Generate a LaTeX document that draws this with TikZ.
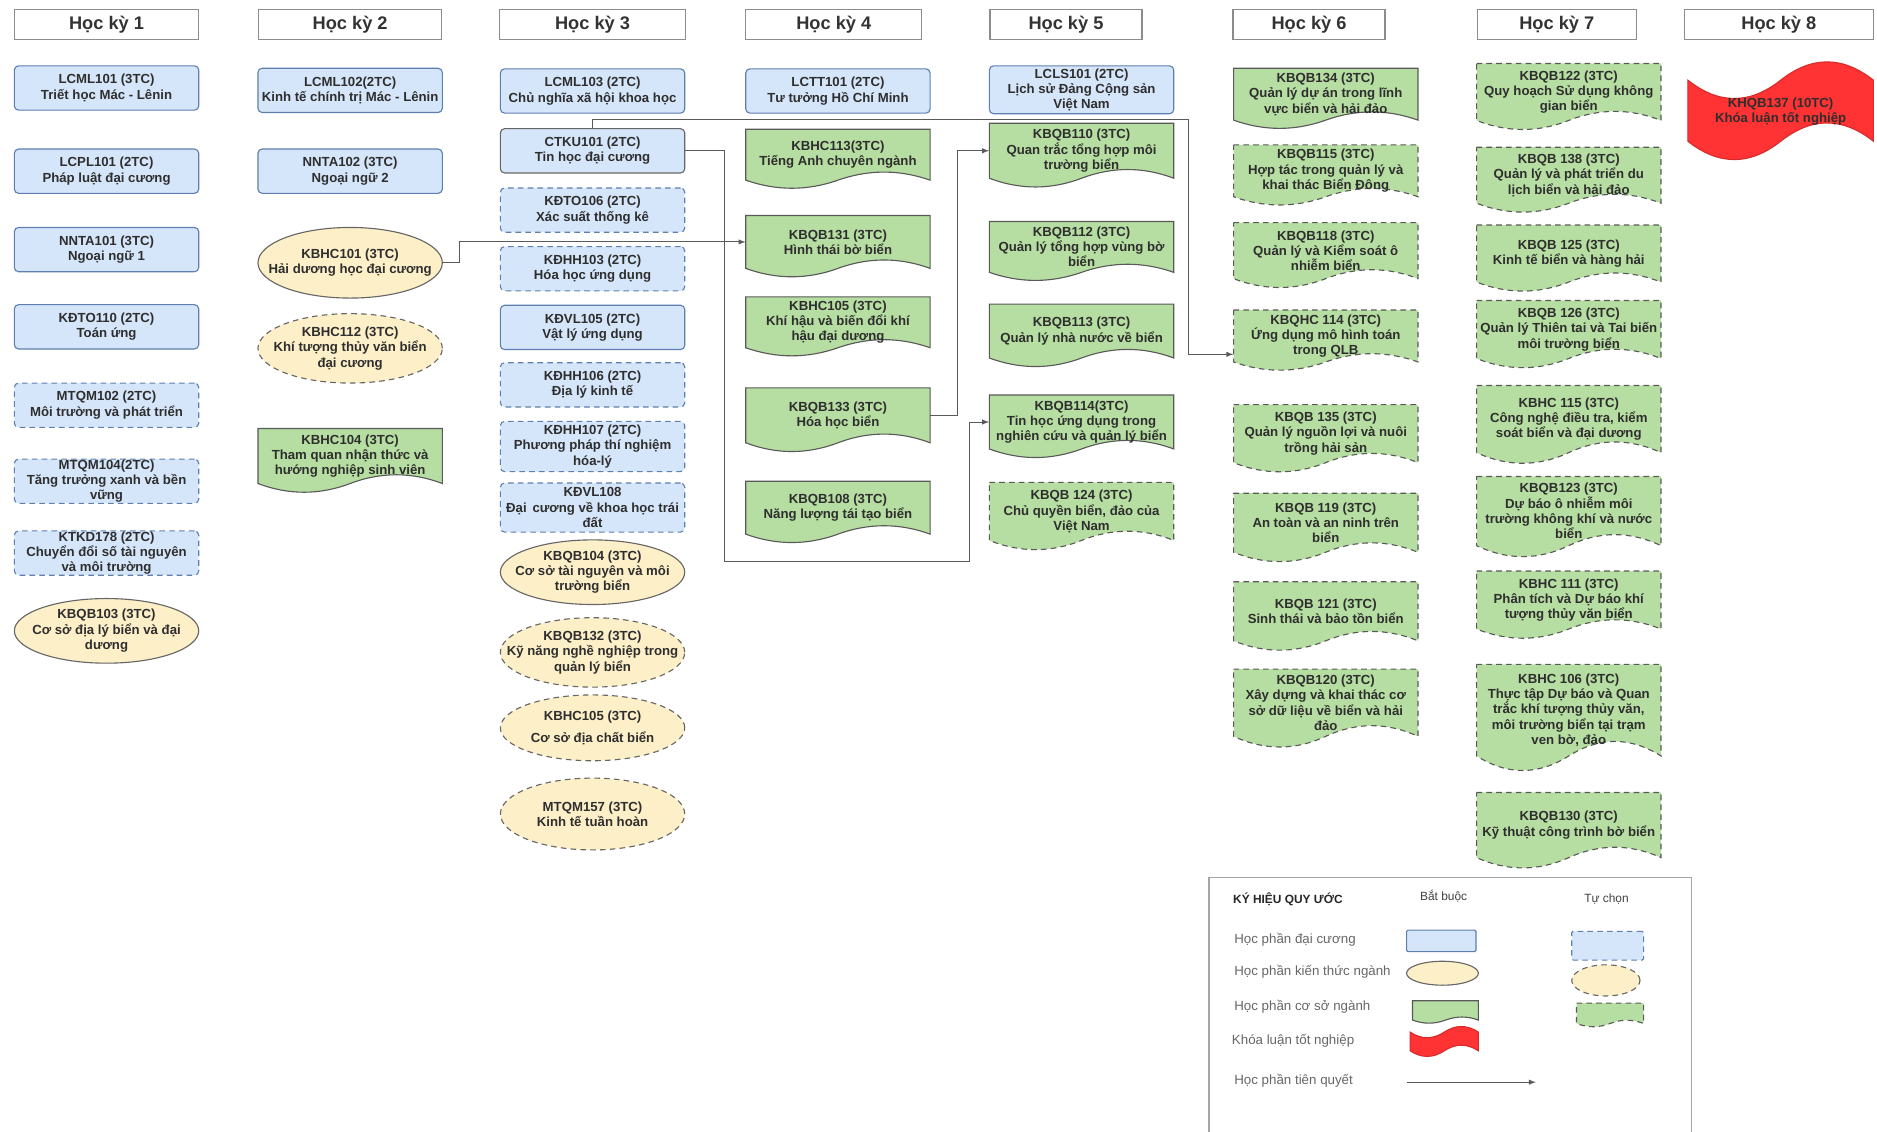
\documentclass[tikz,border=0pt]{standalone}
\usepackage{fontspec}
\setmainfont{Liberation Sans}
\usetikzlibrary{shapes.geometric}
\definecolor{genblue}{HTML}{D6E6FA}
\definecolor{genline}{HTML}{5E7FAF}
\definecolor{majfill}{HTML}{FDEFC8}
\definecolor{basegreen}{HTML}{B7DEA2}
\definecolor{thesisred}{HTML}{FF3333}
\tikzset{txt/.style={font=\bfseries\fontsize{9.4}{10.9}\selectfont,align=center,text=black!82},
sem/.style={draw=black!45,fill=white,line width=0.8pt,minimum height=0.75cm,font=\bfseries\fontsize{13}{15}\selectfont,text=black!80},
gen/.style={txt,draw=genline,fill=genblue,line width=0.8pt,rounded corners=3pt,minimum width=4.62cm,minimum height=1.11cm,inner sep=0pt},
opt/.style={dash pattern=on 4pt off 3pt},
major/.style={txt,ellipse,draw=black!60,fill=majfill,line width=0.8pt,minimum width=4.62cm,inner xsep=-30pt,inner ysep=-8pt},
base/.style={draw=black!65,fill=basegreen,line width=0.8pt},
basetext/.style={txt,inner sep=0pt},
thesis/.style={draw=thesisred!85!black,fill=thesisred,line width=0.8pt},
link/.style={draw=black!65,line width=0.7pt,-latex},
legend/.style={font=\fontsize{9.5}{11}\selectfont,text=black!60,anchor=west}}
% green course box with a wavy bottom: [opt]{name}{cx}{top}{w}{h}{text}
\newcommand{\basebox}[7][]{%
\draw[base,#1] ({#3-0.5*#5},#4) -- ({#3+0.5*#5},#4) -- ({#3+0.5*#5},{#4+0.85*#6})
 .. controls ({#3+0.3333*#5},{#4+0.67*#6}) and ({#3+0.1667*#5},{#4+0.67*#6}) .. (#3,{#4+0.85*#6})
 .. controls ({#3-0.1667*#5},{#4+1.03*#6}) and ({#3-0.3333*#5},{#4+1.03*#6}) .. ({#3-0.5*#5},{#4+0.85*#6}) -- cycle;
\node[basetext,minimum width=#5*0.03cm,minimum height=0.85*#6*0.03cm] (#2) at (#3,{#4+0.425*#6}) {#7};}
% red flag shape: {cx}{top}{w}{h}
\newcommand{\tapeshape}[4]{%
\draw[thesis] ({#1-0.5*#3},{#2+0.2*#4}) .. controls ({#1-0.3333*#3},{#2+0.44*#4}) and ({#1-0.1667*#3},{#2+0.44*#4}) .. (#1,{#2+0.2*#4})
 .. controls ({#1+0.1667*#3},{#2-0.04*#4}) and ({#1+0.3333*#3},{#2-0.04*#4}) .. ({#1+0.5*#3},{#2+0.2*#4}) -- ({#1+0.5*#3},{#2+0.8*#4})
 .. controls ({#1+0.3333*#3},{#2+0.56*#4}) and ({#1+0.1667*#3},{#2+0.56*#4}) .. (#1,{#2+0.8*#4})
 .. controls ({#1-0.1667*#3},{#2+1.04*#4}) and ({#1-0.3333*#3},{#2+1.04*#4}) .. ({#1-0.5*#3},{#2+0.8*#4}) -- cycle;}
\begin{document}
\begin{tikzpicture}[x=0.03cm,y=-0.03cm]
\useasboundingbox (0,0) rectangle (1568,945);
\foreach \n/\cx/\w in {1/89/154,2/292.5/153,3/495/156,4/696.5/147,5/890.5/127,6/1093.5/127,7/1300.5/133,8/1486/158}
\node[sem,minimum width=\w*0.03cm] (hk\n) at (\cx,20.5) {Học kỳ \n};

\node[gen] (lcml101) at (89,73.5) {LCML101 (3TC)\\Triết học Mác - Lênin};
\node[gen] (lcpl101) at (89,143) {LCPL101 (2TC)\\Pháp luật đại cương};
\node[gen] (nnta101) at (89,208.5) {NNTA101 (3TC)\\Ngoại ngữ 1};
\node[gen] (kdto110) at (89,273) {KĐTO110 (2TC)\\Toán ứng};
\node[gen,opt] (mtqm102) at (89,338.5) {MTQM102 (2TC)\\Môi trường và phát triển};
\node[gen,opt] (mtqm104) at (89,402) {MTQM104(2TC)\\Tăng trưởng xanh và bền\\vững};
\node[gen,opt] (ktkd178) at (89,462) {KTKD178 (2TC)\\Chuyển đổi số tài nguyên\\và môi trường};
\node[major,minimum height=54*0.03cm] (kbqb103) at (89,527) {KBQB103 (3TC)\\Cơ sở địa lý biển và đại\\dương};

\node[gen] (lcml102) at (292.5,75.5) {LCML102(2TC)\\Kinh tế chính trị Mác - Lênin};
\node[gen] (nnta102) at (292.5,143) {NNTA102 (3TC)\\Ngoại ngữ 2};
\node[major,minimum height=59*0.03cm] (kbhc101) at (292.5,219.5) {KBHC101 (3TC)\\Hải dương học đại cương};
\node[major,opt,minimum height=58*0.03cm] (kbhc112) at (292.5,291) {KBHC112 (3TC)\\Khí tượng thủy văn biển\\đại cương};
\basebox{kbhc104}{292.5}{358}{154}{54}{KBHC104 (3TC)\\Tham quan nhận thức và\\hướng nghiệp sinh viên}

\node[gen] (lcml103) at (495,76) {LCML103 (2TC)\\Chủ nghĩa xã hội khoa học};
\node[gen,draw=black!60] (ctku101) at (495,126) {CTKU101 (2TC)\\Tin học đại cương};
\node[gen,opt] (kdto106) at (495,175.5) {KĐTO106 (2TC)\\Xác suất thống kê};
\node[gen,opt] (kdhh103) at (495,224.5) {KĐHH103 (2TC)\\Hóa học ứng dụng};
\node[gen] (kdvl105) at (495,273.5) {KĐVL105 (2TC)\\Vật lý ứng dụng};
\node[gen,opt] (kdhh106) at (495,321.5) {KĐHH106 (2TC)\\Địa lý kinh tế};
\node[gen,opt,minimum height=42*0.03cm] (kdhh107) at (495,373) {KĐHH107 (2TC)\\Phương pháp thí nghiệm\\hóa-lý};
\node[gen,opt,minimum height=41*0.03cm] (kdvl108) at (495,424) {KĐVL108\\Đại\, cương về khoa học trái\\đất};
\node[major,minimum height=54*0.03cm] (kbqb104) at (495,478) {KBQB104 (3TC)\\Cơ sở tài nguyên và môi\\trường biển};
\node[major,opt,minimum height=58*0.03cm] (kbqb132) at (495,545) {KBQB132 (3TC)\\Kỹ năng nghề nghiệp trong\\quản lý biển};
\node[major,opt,minimum height=55*0.03cm] (kbhc105a) at (495,608) {KBHC105 (3TC)\\[5pt]Cơ sở địa chất biển};
\node[major,opt,minimum height=60*0.03cm] (mtqm157) at (495,680) {MTQM157 (3TC)\\Kinh tế tuần hoàn};

\node[gen] (lctt101) at (700,76) {LCTT101 (2TC)\\Tư tưởng Hồ Chí Minh};
\basebox{kbhc113}{700}{108}{154}{50}{KBHC113(3TC)\\Tiếng Anh chuyên ngành}
\basebox{kbqb131}{700}{180}{154}{52}{KBQB131 (3TC)\\Hình thái bờ biển}
\basebox{kbhc105b}{700}{248}{154}{50}{KBHC105 (3TC)\\Khí hậu và biến đổi khí\\hậu đại dương}
\basebox{kbqb133}{700}{324}{154}{54}{KBQB133 (3TC)\\Hóa học biển}
\basebox{kbqb108}{700}{402}{154}{52}{KBQB108 (3TC)\\Năng lượng tái tạo biển}

\node[gen,minimum height=40*0.03cm] (lcls101) at (903.5,75) {LCLS101 (2TC)\\Lịch sử Đảng Cộng sản\\Việt Nam};
\basebox{kbqb110}{903.5}{103}{154}{54}{KBQB110 (3TC)\\Quan trắc tổng hợp môi\\trường biển}
\basebox{kbqb112}{903.5}{185}{154}{50}{KBQB112 (3TC)\\Quản lý tổng hợp vùng bờ\\biển}
\basebox{kbqb113}{903.5}{254}{154}{53}{KBQB113 (3TC)\\Quản lý nhà nước về biển}
\basebox{kbqb114}{903.5}{330}{154}{53}{KBQB114(3TC)\\Tin học ứng dụng trong\\nghiên cứu và quản lý biển}
\basebox[opt]{kbqb124}{903.5}{403}{154}{57}{KBQB 124 (3TC)\\Chủ quyền biển, đảo của\\Việt Nam}

\basebox{kbqb134}{1107.5}{57}{154}{51}{KBQB134 (3TC)\\Quản lý dự án trong lĩnh\\vực biển và hải đảo}
\basebox[opt]{kbqb115}{1107.5}{121}{154}{51}{KBQB115 (3TC)\\Hợp tác trong quản lý và\\khai thác Biển Đông}
\basebox[opt]{kbqb118}{1107.5}{186}{154}{55}{KBQB118 (3TC)\\Quản lý và Kiểm soát ô\\nhiễm biển}
\basebox[opt]{kbqhc114}{1107.5}{259}{154}{51}{KBQHC 114 (3TC)\\Ứng dụng mô hình toán\\trong QLB}
\basebox[opt]{kbqb135}{1107.5}{338}{154}{57}{KBQB 135 (3TC)\\Quản lý nguồn lợi và nuôi\\trồng hải sản}
\basebox[opt]{kbqb119}{1107.5}{412}{154}{58}{KBQB 119 (3TC)\\An toàn và an ninh trên\\biển}
\basebox[opt]{kbqb121}{1107.5}{486}{154}{58}{KBQB 121 (3TC)\\Sinh thái và bảo tồn biển}
\basebox[opt]{kbqb120}{1107.5}{559}{154}{66}{KBQB120 (3TC)\\Xây dựng và khai thác cơ\\sở dữ liệu về biển và hải\\đảo}

\basebox[opt]{kbqb122}{1310.5}{53}{154}{56}{KBQB122 (3TC)\\Quy hoạch Sử dụng không\\gian biển}
\basebox[opt]{kbqb138}{1310.5}{123}{154}{55}{KBQB 138 (3TC)\\Quản lý và phát triển du\\lịch biển và hải đảo}
\basebox[opt]{kbqb125}{1310.5}{188}{154}{56}{KBQB 125 (3TC)\\Kinh tế biển và hàng hải}
\basebox[opt]{kbqb126}{1310.5}{251}{154}{57}{KBQB 126 (3TC)\\Quản lý Thiên tai và Tai biến\\môi trường biển}
\basebox[opt]{kbhc115}{1310.5}{322}{154}{66}{KBHC 115 (3TC)\\Công nghệ điều tra, kiểm\\soát biển và đại dương}
\basebox[opt]{kbqb123}{1310.5}{398}{154}{68}{KBQB123 (3TC)\\Dự báo ô nhiễm môi\\trường không khí và nước\\biển}
\basebox[opt]{kbhc111}{1310.5}{477}{154}{57}{KBHC 111 (3TC)\\Phân tích và Dự báo khí\\tượng thủy văn biển}
\basebox[opt]{kbhc106}{1310.5}{555}{154}{90}{KBHC 106 (3TC)\\Thực tập Dự báo và Quan\\trắc khí tượng thủy văn,\\môi trường biển tại trạm\\ven bờ, đảo}
\basebox[opt]{kbqb130}{1310.5}{662}{154}{64}{KBQB130 (3TC)\\Kỹ thuật công trình bờ biển}

\tapeshape{1487.5}{50}{155}{85}
\node[txt,minimum width=155*0.03cm] (khqb137) at (1487.5,93) {KHQB137 (10TC)\\Khóa luận tốt nghiệp};

\draw[link] (kbhc101.east) -- ++(14,0) |- (kbqb131.west);
\coordinate (q114) at (kbqhc114.west |- 0,296);
\draw[link] (ctku101.north) |- (993,100) |- (q114);
\draw[link] (ctku101.east) -| (605,469) -- (810,469) |- (kbqb114.west);
\draw[link] (kbqb133.east) -- ++(23,0) |- (kbqb110.west);

\draw[draw=black!35,line width=1.2pt] (1010,950) |- (1413,733) -- (1413,950);
\node[anchor=west,font=\bfseries\fontsize{8.5}{10}\selectfont,text=black!85] (lgtitle) at (1026,751) {KÝ HIỆU QUY ƯỚC};
\node[font=\fontsize{8.5}{10}\selectfont,text=black!75] (lgreq) at (1206,749) {Bắt buộc};
\node[font=\fontsize{8.5}{10}\selectfont,text=black!75] (lgopt) at (1342,751) {Tự chọn};
\node[legend] (lg1) at (1027,785) {Học phần đại cương};
\node[legend] (lg2) at (1027,812) {Học phần kiến thức ngành};
\node[legend] (lg3) at (1027,841) {Học phần cơ sở ngành};
\node[legend] (lg4) at (1025,869) {Khóa luận tốt nghiệp};
\node[legend] (lg5) at (1027,903) {Học phần tiên quyết};
\node[gen,minimum width=58*0.03cm,minimum height=18*0.03cm,rounded corners=1pt] (lggen) at (1204,786) {};
\node[gen,opt,minimum width=60*0.03cm,minimum height=24*0.03cm,rounded corners=1pt] (lggenopt) at (1343,790) {};
\node[major,minimum width=60*0.03cm,minimum height=20*0.03cm,inner sep=0pt] (lgmajor) at (1205,813) {};
\node[major,opt,minimum width=57*0.03cm,minimum height=26*0.03cm,inner sep=0pt] (lgmajoropt) at (1341.5,819) {};
\basebox{lgbase}{1207.5}{836}{55}{19}{}
\basebox[opt]{lgbaseopt}{1345}{838}{56}{20}{}
\tapeshape{1206.5}{857}{57}{26}
\coordinate (lgs) at (1175,904);
\coordinate (lge) at (1283,904);
\draw[link] (lgs) -- (lge);
\end{tikzpicture}
\end{document}
